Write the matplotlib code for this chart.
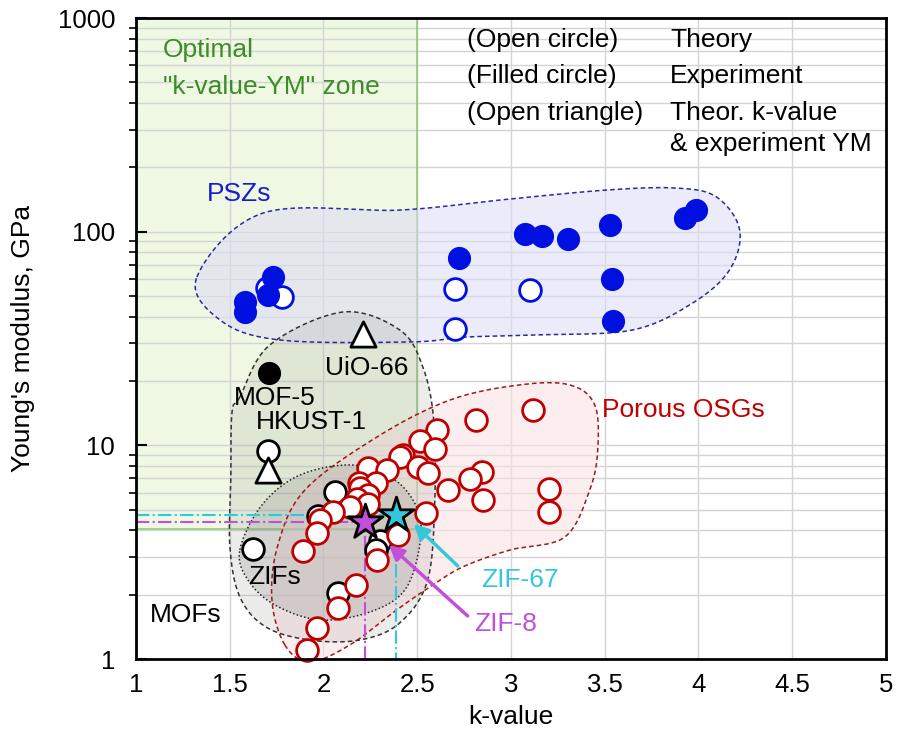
import numpy as np
import matplotlib
matplotlib.use("Agg")
import matplotlib.pyplot as plt
from matplotlib.ticker import FixedLocator, NullLocator, FixedFormatter

plt.rcParams['font.family'] = ['Liberation Sans', 'DejaVu Sans']

# --- data (k-value, Young's modulus in GPa) ---
psz_exp_k = [1.58, 1.58, 1.705, 1.729, 2.724, 3.074, 3.163, 3.306, 3.527, 3.537, 3.544, 3.926, 3.989]
psz_exp_ym = [47.0, 42.3, 50.6, 61.5, 75.5, 97.6, 95.5, 92.0, 107.0, 60.0, 38.4, 115.6, 127.0]
psz_th_k = [1.697, 1.777, 2.702, 2.702, 3.104]
psz_th_ym = [54.3, 49.3, 53.7, 34.9, 53.3]

mof_exp_k = [1.711]          # MOF-5
mof_exp_ym = [21.9]
mof_tri_k = [2.212, 1.705]   # UiO-66, HKUST-1
mof_tri_ym = [33.2, 7.67]
mof_th_k = [1.705, 2.061, 1.972, 1.625, 2.30, 2.28, 2.079]   # HKUST-1 + ZIFs
mof_th_ym = [9.36, 6.03, 4.65, 3.27, 3.55, 3.25, 2.03]

osg_k = [2.603, 2.514, 2.597, 2.425, 2.41, 2.505, 2.558, 2.238, 2.339, 2.189,
         2.279, 2.194, 2.665, 2.238, 2.18, 2.24, 2.141, 2.052, 2.549, 1.981,
         1.963, 2.398, 1.892, 2.283, 2.176, 2.078, 1.963, 1.910, 2.812, 3.115,
         2.843, 2.784, 2.852, 3.203, 3.203]
osg_ym = [11.8, 10.5, 9.6, 9.0, 8.8, 7.95, 7.4, 7.8, 7.7, 6.7,
          6.66, 6.3, 6.16, 5.86, 5.6, 5.3, 5.17, 4.9, 4.8, 4.48,
          3.88, 3.81, 3.19, 2.91, 2.22, 1.73, 1.39, 1.10, 13.2, 14.7,
          7.54, 6.97, 5.55, 6.24, 4.86]

zif8_k, zif8_ym = 2.224, 4.40
zif67_k, zif67_ym = 2.389, 4.72

optimal_k = 2.5
optimal_ym = 4.07

# region outlines (k, log10 YM), smoothed below
psz_zone_k = [1.325, 1.677, 2.407, 2.940, 3.511, 3.884, 4.097, 4.220, 4.166, 3.969, 3.649, 3.154, 2.764, 2.461, 1.768, 1.448]
psz_zone_lg = [1.788, 2.087, 2.101, 2.148, 2.195, 2.204, 2.162, 2.008, 1.821, 1.666, 1.540, 1.517, 1.507, 1.484, 1.493, 1.587]
mof_zone_k = [1.554, 1.714, 2.103, 2.407, 2.530, 2.588, 2.594, 2.556, 2.407, 2.194, 1.927, 1.693, 1.554, 1.501, 1.506, 1.512]
mof_zone_lg = [1.226, 1.470, 1.624, 1.540, 1.367, 1.119, 0.744, 0.370, 0.169, 0.089, 0.089, 0.150, 0.291, 0.525, 0.838, 1.152]
zif_zone_k = [1.554, 1.672, 1.874, 2.157, 2.381, 2.503, 2.514, 2.434, 2.247, 1.981, 1.741, 1.597]
zif_zone_lg = [0.511, 0.721, 0.861, 0.908, 0.838, 0.698, 0.534, 0.323, 0.220, 0.183, 0.253, 0.370]
osg_zone_k = [1.794, 1.725, 1.757, 1.901, 2.285, 2.674, 3.047, 3.313, 3.447, 3.463, 3.420, 3.287, 2.994, 2.743, 2.567, 2.391, 2.141, 1.927]
osg_zone_lg = [0.066, 0.277, 0.534, 0.791, 1.039, 1.212, 1.283, 1.283, 1.189, 0.978, 0.791, 0.571, 0.510, 0.431, 0.337, 0.230, 0.066, -0.013]


def smooth_closed(xs, ys, n=24):
    # closed catmull-rom curve through the outline points
    pts = np.column_stack([xs, ys])
    m = len(pts)
    t = np.linspace(0, 1, n, endpoint=False)[:, None]
    segs = []
    for i in range(m):
        p0, p1, p2, p3 = pts[i - 1], pts[i], pts[(i + 1) % m], pts[(i + 2) % m]
        segs.append(0.5 * (2 * p1 + (-p0 + p2) * t + (2 * p0 - 5 * p1 + 4 * p2 - p3) * t ** 2
                           + (-p0 + 3 * p1 - 3 * p2 + p3) * t ** 3))
    c = np.vstack(segs + [segs[0][:1]])
    return c[:, 0], 10 ** c[:, 1]


fig = plt.figure(figsize=(9.04, 7.38), dpi=100)
ax = fig.add_axes([0.1504, 0.107, 0.8296, 0.8686])
ax.set_yscale('log')
ax.set_xlim(1, 5)
ax.set_ylim(1, 1000)

# optimal zone
green = '#7fbf5f'
ax.fill_between([1, optimal_k], optimal_ym, 1000, color='#eef8e3', zorder=0.2)
ax.plot([optimal_k, optimal_k], [optimal_ym, 1000], color=green, lw=1.2, alpha=0.8, zorder=0.6)
ax.plot([1, optimal_k], [optimal_ym, optimal_ym], color=green, lw=1.2, alpha=0.8, zorder=0.6)

# shaded regions
zones = [
    (psz_zone_k, psz_zone_lg, '#dcdcf6', 0.55, '#2a2aa0', (0, (3, 2))),
    (osg_zone_k, osg_zone_lg, '#fbe1e1', 0.55, '#a01818', (0, (3, 2))),
    (mof_zone_k, mof_zone_lg, '#a0a09a', 0.2, '#333333', (0, (3, 2))),
    (zif_zone_k, zif_zone_lg, '#909090', 0.25, '#222222', (0, (1, 1.5))),
]
for zk, zl, fc, al, ec, ls in zones:
    cx, cy = smooth_closed(zk, zl)
    ax.fill(cx, cy, color=fc, alpha=al, lw=0, zorder=1)
    ax.plot(cx, cy, color=ec, lw=1.1, ls=ls, zorder=1.2)

# guide lines for ZIF-8 / ZIF-67
cyan = '#33c7dc'
magenta = '#c24fdc'
ax.plot([1, zif67_k, zif67_k], [zif67_ym, zif67_ym, 1], color=cyan, lw=1.5, ls='-.', zorder=1.5)
ax.plot([1, zif8_k, zif8_k], [zif8_ym, zif8_ym, 1], color=magenta, lw=1.5, ls='-.', zorder=1.5)

ms = 245
ax.scatter(osg_k, osg_ym, s=ms, facecolor='white', edgecolor='#c00000', lw=2, zorder=3, clip_on=False)
ax.scatter(mof_th_k, mof_th_ym, s=ms, facecolor='white', edgecolor='black', lw=2, zorder=2.8)
ax.scatter(mof_exp_k, mof_exp_ym, s=ms, facecolor='black', edgecolor='black', lw=1, zorder=3)
ax.scatter(mof_tri_k, mof_tri_ym, s=330, marker='^', facecolor='white', edgecolor='black', lw=2, zorder=3)
ax.scatter(psz_th_k, psz_th_ym, s=ms, facecolor='white', edgecolor='#0010e0', lw=2, zorder=3)
ax.scatter(psz_exp_k, psz_exp_ym, s=ms, facecolor='#0010e0', edgecolor='#0010e0', lw=1, zorder=3)
ax.scatter([zif8_k], [zif8_ym], s=700, marker='*', facecolor=magenta, edgecolor='black', lw=2, zorder=4)
ax.scatter([zif67_k], [zif67_ym], s=700, marker='*', facecolor=cyan, edgecolor='black', lw=2, zorder=4)

# arrows + labels
ax.annotate('', xy=(2.471, 4.38), xytext=(2.727, 2.67),
            arrowprops=dict(arrowstyle='-|>', color=cyan, lw=2.5, mutation_scale=22), zorder=5)
ax.annotate('', xy=(2.338, 3.49), xytext=(2.780, 1.56),
            arrowprops=dict(arrowstyle='-|>', color=magenta, lw=2.5, mutation_scale=22), zorder=5)

fs = 19
ax.text(3.05, 2.34, 'ZIF-67', color=cyan, fontsize=fs, ha='center', va='center')
ax.text(2.97, 1.46, 'ZIF-8', color=magenta, fontsize=fs, ha='center', va='center')
ax.text(1.38, 150, 'PSZs', color='#1a1acc', fontsize=fs, ha='left', va='center')
ax.text(3.92, 14.7, 'Porous OSGs', color='#c00000', fontsize=fs, ha='center', va='center')
ax.text(2.23, 23, 'UiO-66', fontsize=fs, ha='center', va='center', zorder=5)
ax.text(1.741, 16.7, 'MOF-5', fontsize=fs, ha='center', va='center', zorder=5)
ax.text(1.933, 12.8, 'HKUST-1', fontsize=fs, ha='center', va='center', zorder=5)
ax.text(1.741, 2.42, 'ZIFs', fontsize=fs, ha='center', va='center', zorder=5)
ax.text(1.267, 1.61, 'MOFs', fontsize=fs, ha='center', va='center', zorder=5)
ax.text(1.144, 708, 'Optimal', color='#3c8c28', fontsize=fs, ha='left', va='center')
ax.text(1.144, 475, '"k-value-YM" zone', color='#3c8c28', fontsize=fs, ha='left', va='center')

legend_left = ['(Open circle)', '(Filled circle)', '(Open triangle)', '']
legend_right = ['Theory', 'Experiment', 'Theor. k-value', '& experiment YM']
for i, (a, b) in enumerate(zip(legend_left, legend_right)):
    yy = [40, 76, 113, 144][i]
    fy = 1 - (yy) / 738
    fig.text(467 / 904, fy, a, fontsize=fs, ha='left', va='center')
    fig.text(670 / 904, fy, b, fontsize=fs, ha='left', va='center')

# axes, ticks, grid
ax.xaxis.set_major_locator(FixedLocator(np.arange(1, 5.01, 0.5)))
ax.xaxis.set_minor_locator(NullLocator())
ax.set_xticklabels(['1', '1.5', '2', '2.5', '3', '3.5', '4', '4.5', '5'])
ax.yaxis.set_major_locator(FixedLocator([1, 10, 100, 1000]))
ax.yaxis.set_major_formatter(FixedFormatter(['1', '10', '100', '1000']))
ax.tick_params(axis='both', labelsize=18.5, direction='in')
ax.tick_params(axis='x', length=0, pad=10)
ax.tick_params(axis='y', which='major', length=8, width=1.5, pad=15)
ax.tick_params(axis='y', which='minor', length=5, width=1.2)
ax.grid(True, which='both', color='#d4d4d4', lw=1)
ax.set_axisbelow(True)
for sp in ax.spines.values():
    sp.set_linewidth(2)
    sp.set_zorder(6)
ax.set_xlabel('k-value', fontsize=fs, labelpad=6)
ax.set_ylabel("Young's modulus, GPa", fontsize=fs, labelpad=16)

fig.savefig('out.png', dpi=100)
